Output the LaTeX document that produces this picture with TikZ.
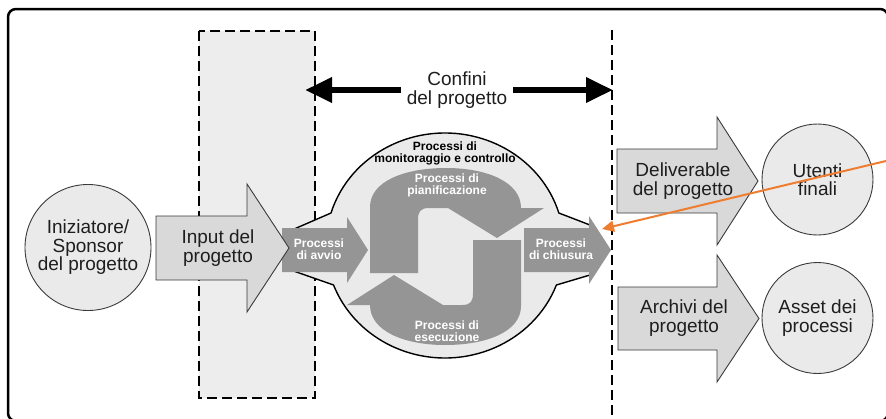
\documentclass[tikz,border=0pt]{standalone}
\usepackage{fontspec}
\setmainfont{Liberation Sans}
\usetikzlibrary{arrows.meta}
\definecolor{lightfill}{HTML}{EAEAEA}
\definecolor{arrowfill}{HTML}{D9D9D9}
\definecolor{zonefill}{HTML}{EDEDED}
\definecolor{procgray}{HTML}{959595}
\definecolor{outline}{HTML}{3A3A3A}
\definecolor{orangeline}{HTML}{EE7D30}
\definecolor{ink}{HTML}{1E1E1E}
\tikzset{
 lbl/.style={font=\fontsize{19}{18.5}\selectfont, align=center, text=ink, inner sep=0pt},
 blbl/.style={font=\fontsize{12}{12.5}\selectfont\bfseries, align=center, inner sep=0pt},
 wlbl/.style={blbl, text=white},
 bigarrow/.style={fill=arrowfill, draw=outline, line width=0.9pt, line join=miter},
 entity/.style={circle, fill=lightfill, draw=outline, line width=0.9pt, inner sep=0pt, minimum size=#1},
 zone/.style={draw=black, line width=2.2pt, dash pattern=on 10pt off 5pt},
 procarrow/.style={fill=procgray},
}
\newcommand{\planpath}{(370,273) -- (370,207) .. controls (370,181) and (405,168) .. (446,168) .. controls (487,168) and (521,182) .. (521,208) -- (544,208) -- (497,238) -- (448,208) -- (429,208) .. controls (420,208) and (418,212) .. (418,220) -- (418,273) -- cycle}
\begin{document}
\begin{tikzpicture}[x=1pt,y=-1pt]
\useasboundingbox (0,0) rectangle (886,418);
\clip (0,0) rectangle (886,418);
% outer frame
\draw[line width=2.5pt, rounded corners=8pt] (8,9) rectangle (888,421);
% project boundaries
\draw[zone, fill=zonefill] (199,31) rectangle (315,398);
\draw[zone] (612,30) -- (612,420);
\coordinate (bl) at (305,90);
\coordinate (br) at (613,90);
\draw[line width=6.5pt, {Triangle[length=27pt,width=24pt]}-{Triangle[length=27pt,width=24pt]}] (bl) -- (br);
\node[lbl, fill=white, inner xsep=6pt, inner ysep=1pt] (confini) at (457,90) {Confini\\del progetto};
% central blob
\draw[fill=lightfill, line width=1.4pt, line join=round] (285,233) -- (331,213) arc[start angle=196.79, end angle=343.21, x radius=119, y radius=112.5] -- (590,225) -- (590,275) -- (556.4,285) arc[start angle=20.56, end angle=159.44, x radius=119, y radius=112.5] -- (285,268) -- cycle;
\node[blbl, text=black] (monitor) at (445,153.5) {Processi di\\monitoraggio e controllo};
% S arrows
\fill[procarrow] \planpath;
\fill[procarrow, rotate around={180:(445.5,256.5)}] \planpath;
\node[wlbl] (plan) at (447,185.5) {Processi di\\pianificazione};
\node[wlbl] (exec) at (447,331) {Processi di\\esecuzione};
% start / close arrows
\fill[procarrow] (282,228) -- (347,228) -- (347,217) -- (368,250) -- (347,283) -- (347,272) -- (282,272) -- cycle;
\node[wlbl] (avvio) at (319,249) {Processi\\di avvio};
\fill[procarrow] (524,228) -- (589,228) -- (589,216) -- (611,250) -- (589,284) -- (589,272) -- (524,272) -- cycle;
\node[wlbl] (chiusura) at (561,249) {Processi\\di chiusura};
% left side
\node[entity=126pt, lbl] (sponsor) at (88,247.5) {Iniziatore/\\Sponsor\\del progetto};
\draw[bigarrow] (156,216) -- (247,216) -- (247,184) -- (289,248) -- (247,312) -- (247,280) -- (156,280) -- cycle;
\node[lbl] (input) at (218,248) {Input del\\progetto};
% right side
\draw[bigarrow] (617,149) -- (717,149) -- (717,117) -- (758,181) -- (717,245) -- (717,213) -- (617,213) -- cycle;
\node[lbl] (deliv) at (683,181) {Deliverable\\del progetto};
\draw[bigarrow] (618,287) -- (717,287) -- (717,255) -- (759,318.5) -- (717,382) -- (717,350) -- (618,350) -- cycle;
\node[lbl] (archivi) at (684,318) {Archivi del\\progetto};
\node[entity=111pt, lbl] (utenti) at (817.5,179.5) {Utenti\\finali};
\node[entity=111pt, lbl] (asset) at (817.5,318) {Asset dei\\processi};
% orange pointer
\coordinate (ostart) at (888,160.5);
\coordinate (oend) at (602,229);
\draw[orangeline, line width=2pt, -{Triangle[length=12pt,width=11pt]}] (ostart) -- (oend);
\end{tikzpicture}
\end{document}
